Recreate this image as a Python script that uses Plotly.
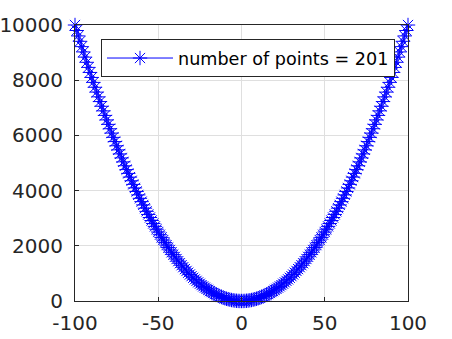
import plotly.graph_objects as go

x_values = [-100, -99, -98, -97, -96, -95, -94, -93, -92, -91, -90, -89, -88, -87, -86, -85, -84, -83, -82, -81,
            -80, -79, -78, -77, -76, -75, -74, -73, -72, -71, -70, -69, -68, -67, -66, -65, -64, -63, -62, -61,
            -60, -59, -58, -57, -56, -55, -54, -53, -52, -51, -50, -49, -48, -47, -46, -45, -44, -43, -42, -41,
            -40, -39, -38, -37, -36, -35, -34, -33, -32, -31, -30, -29, -28, -27, -26, -25, -24, -23, -22, -21,
            -20, -19, -18, -17, -16, -15, -14, -13, -12, -11, -10, -9, -8, -7, -6, -5, -4, -3, -2, -1,
            0, 1, 2, 3, 4, 5, 6, 7, 8, 9, 10, 11, 12, 13, 14, 15, 16, 17, 18, 19,
            20, 21, 22, 23, 24, 25, 26, 27, 28, 29, 30, 31, 32, 33, 34, 35, 36, 37, 38, 39,
            40, 41, 42, 43, 44, 45, 46, 47, 48, 49, 50, 51, 52, 53, 54, 55, 56, 57, 58, 59,
            60, 61, 62, 63, 64, 65, 66, 67, 68, 69, 70, 71, 72, 73, 74, 75, 76, 77, 78, 79,
            80, 81, 82, 83, 84, 85, 86, 87, 88, 89, 90, 91, 92, 93, 94, 95, 96, 97, 98, 99, 100]

y_values = [10000, 9801, 9604, 9409, 9216, 9025, 8836, 8649, 8464, 8281, 8100, 7921, 7744, 7569, 7396, 7225, 7056, 6889, 6724, 6561,
            6400, 6241, 6084, 5929, 5776, 5625, 5476, 5329, 5184, 5041, 4900, 4761, 4624, 4489, 4356, 4225, 4096, 3969, 3844, 3721,
            3600, 3481, 3364, 3249, 3136, 3025, 2916, 2809, 2704, 2601, 2500, 2401, 2304, 2209, 2116, 2025, 1936, 1849, 1764, 1681,
            1600, 1521, 1444, 1369, 1296, 1225, 1156, 1089, 1024, 961, 900, 841, 784, 729, 676, 625, 576, 529, 484, 441,
            400, 361, 324, 289, 256, 225, 196, 169, 144, 121, 100, 81, 64, 49, 36, 25, 16, 9, 4, 1,
            0, 1, 4, 9, 16, 25, 36, 49, 64, 81, 100, 121, 144, 169, 196, 225, 256, 289, 324, 361,
            400, 441, 484, 529, 576, 625, 676, 729, 784, 841, 900, 961, 1024, 1089, 1156, 1225, 1296, 1369, 1444, 1521,
            1600, 1681, 1764, 1849, 1936, 2025, 2116, 2209, 2304, 2401, 2500, 2601, 2704, 2809, 2916, 3025, 3136, 3249, 3364, 3481,
            3600, 3721, 3844, 3969, 4096, 4225, 4356, 4489, 4624, 4761, 4900, 5041, 5184, 5329, 5476, 5625, 5776, 5929, 6084, 6241,
            6400, 6561, 6724, 6889, 7056, 7225, 7396, 7569, 7744, 7921, 8100, 8281, 8464, 8649, 8836, 9025, 9216, 9409, 9604, 9801, 10000]

x_ticks = [-100, -50, 0, 50, 100]
y_ticks = [0, 2000, 4000, 6000, 8000, 10000]
series_name = "number of points = 201"

fig = go.Figure()
fig.add_trace(go.Scatter(
    x=x_values, y=y_values, mode="lines+markers", name=series_name,
    line=dict(color="#0000ff", width=1),
    marker=dict(symbol="asterisk-open", size=12, color="#0000ff",
                line=dict(color="#0000ff", width=1)),
    cliponaxis=False,
))

axis_common = dict(
    showline=True, linecolor="#262626", linewidth=1, mirror=True,
    ticks="inside", ticklen=4, tickcolor="#262626",
    showgrid=True, gridcolor="#dfdfdf", gridwidth=1, zeroline=False,
    tickfont=dict(family="DejaVu Sans", size=20, color="#262626"),
    automargin=False,
)

fig.update_xaxes(range=[-100, 100], tickvals=x_ticks, ticktext=[str(v) for v in x_ticks],
                 ticklabelstandoff=4, **axis_common)
fig.update_yaxes(range=[0, 10000], tickvals=y_ticks, ticktext=[str(v) for v in y_ticks],
                 ticklabelstandoff=7, **axis_common)

fig.update_layout(
    width=452, height=339,
    margin=dict(l=75, r=44, t=25, b=38),
    paper_bgcolor="white", plot_bgcolor="white",
    showlegend=True,
    legend=dict(x=0.961, y=0.949, xanchor="right", yanchor="top",
                bgcolor="white", bordercolor="#262626", borderwidth=1,
                font=dict(family="DejaVu Sans", size=17.6, color="#000000"),
                itemwidth=66),
)

fig.write_html("out.html", config={"displayModeBar": False},
               post_script="document.body.style.margin='0';")
